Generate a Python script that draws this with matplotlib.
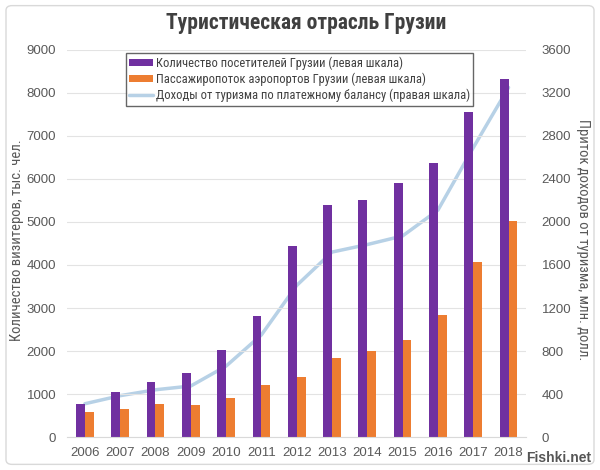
import matplotlib
matplotlib.use("Agg")
import matplotlib.pyplot as plt
import numpy as np
from matplotlib.patches import FancyBboxPatch

years = ["2006", "2007", "2008", "2009", "2010", "2011", "2012",
         "2013", "2014", "2015", "2016", "2017", "2018"]
visitors = [760, 1050, 1290, 1500, 2030, 2820, 4430, 5390, 5520, 5900, 6360, 7550, 8330]
airport = [590, 650, 780, 750, 920, 1200, 1400, 1830, 2000, 2260, 2830, 4070, 5030]
income = [310, 385, 440, 475, 660, 950, 1410, 1720, 1790, 1870, 2110, 2690, 3250]

left_ticks = list(range(0, 9001, 1000))
right_ticks = list(range(0, 3601, 400))

title = "Туристическая отрасль Грузии"
leg_labels = ["Количество посетителей Грузии (левая шкала)",
              "Пассажиропоток аэропортов Грузии (левая шкала)",
              "Доходы от туризма по платежному балансу (правая шкала)"]
ylabel_left = "Количество визитеров, тыс. чел."
ylabel_right = "Приток доходов от туризма, млн. долл."

PURPLE = "#7030a0"
ORANGE = "#ed7d31"
LINEC = "#b7d1e6"
GRAY = "#595959"

plt.rcParams['font.family'] = ['Liberation Sans', 'DejaVu Sans']
NARROW = ['Roboto Condensed', 'Liberation Sans Narrow', 'Roboto', 'Liberation Sans']

fig = plt.figure(figsize=(6, 4.7), dpi=100)
fig.patches.append(FancyBboxPatch((0.01, 0.012), 0.98, 0.976, boxstyle="round,pad=0,rounding_size=0.01",
                                  transform=fig.transFigure, fill=False, ec="#d9d9d9", lw=1))
ax = fig.add_axes([0.112, 0.070, 0.765, 0.824])
ax2 = ax.twinx()

x = np.arange(len(years))
w = 0.25
ax.bar(x - w / 2, visitors, width=w, color=PURPLE, label=leg_labels[0], zorder=2)
ax.bar(x + w / 2, airport, width=w, color=ORANGE, label=leg_labels[1], zorder=2)
ax2.plot(x, income, color=LINEC, lw=2.5, label=leg_labels[2], solid_capstyle="round")

ax.set_xlim(-0.5, len(years) - 0.5)
ax.set_ylim(0, 9000)
ax2.set_ylim(0, 3600)
ax.set_yticks(left_ticks)
ax2.set_yticks(right_ticks)
ax.set_xticks(x)
ax.set_xticklabels(years)
ax.grid(axis="y", color="#e3e3e3", lw=0.8, zorder=0)
ax.set_axisbelow(True)

for a in (ax, ax2):
    for s in a.spines.values():
        s.set_visible(False)
    a.tick_params(length=0, labelsize=9.5, labelcolor=GRAY)
ax.spines["bottom"].set_visible(True)
ax.spines["bottom"].set_color("#d9d9d9")
ax.tick_params(axis="x", pad=7)
ax.tick_params(axis="y", pad=8)
ax2.tick_params(axis="y", pad=11)

fig.text(0.029, 0.49, ylabel_left, fontsize=10.5, color=GRAY, family=NARROW,
         rotation=90, ha="center", va="center")
fig.text(0.972, 0.49, ylabel_right, fontsize=10.5, color=GRAY, family=NARROW,
         rotation=-90, ha="center", va="center")

fig.text(0.51, 0.95, title, ha="center", va="center", fontsize=15.5, fontweight="bold",
         color="#404040", family=NARROW)

h1, l1 = ax.get_legend_handles_labels()
h2, l2 = ax2.get_legend_handles_labels()
leg = ax.legend(h1 + h2, l1 + l2, loc="upper left", bbox_to_anchor=(0.1135, 1.008),
                frameon=True, fancybox=False, edgecolor="#404040",
                handlelength=1.9, handleheight=0.5, handletextpad=0.2, labelspacing=0.2,
                borderpad=0.3, prop={'family': NARROW, 'size': 9})
leg.get_frame().set_linewidth(1.0)
for t in leg.get_texts():
    t.set_color("#404040")
ax.set_zorder(ax2.get_zorder() + 1)
ax.patch.set_visible(False)

fig.text(0.985, 0.025, "Fishki.net", ha="right", va="center", fontsize=10, fontweight="bold", color="#555555")

fig.savefig("out.png", dpi=100)
